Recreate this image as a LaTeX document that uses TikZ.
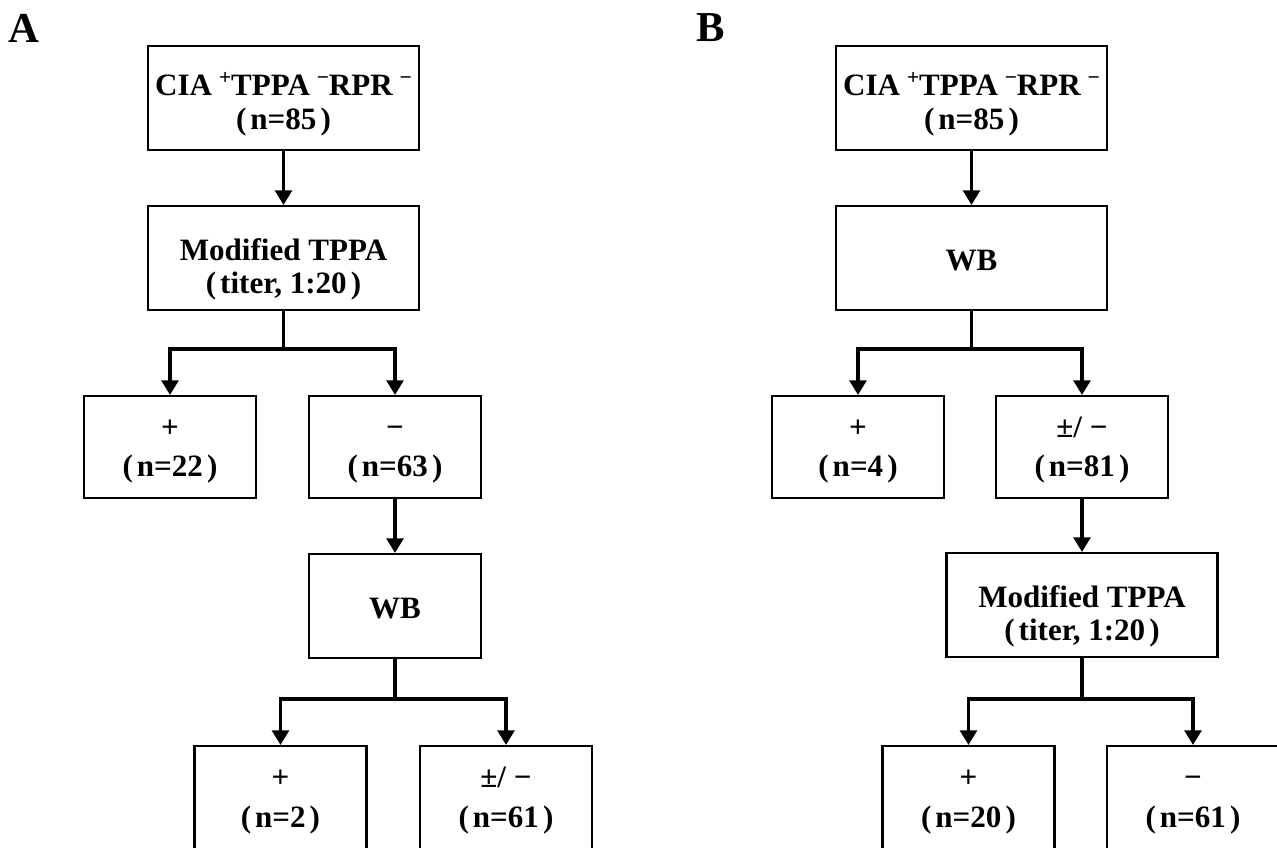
\documentclass[tikz,border=0pt]{standalone}
\usepackage{fontspec}
\setmainfont{Liberation Serif}
\usetikzlibrary{arrows.meta}
\newcommand\supsym[1]{\hspace{0.22em}\raisebox{0.72ex}{\fontsize{16}{16}\selectfont #1}}
\newcommand\lp{(\kern3pt}
\newcommand\rp{\kern3pt)}
\begin{document}
\begin{tikzpicture}[x=0.75pt,y=-0.75pt,
  basebox/.style={draw, line width=1.8pt, inner sep=0pt, anchor=north, align=center},
  wide/.style={basebox, minimum width=203.25pt},
  narrow/.style={basebox, minimum width=129pt},
  dims/.style n args={3}{text height=#1, text depth=#2, font=\fontsize{23.3}{#3}\selectfont\bfseries},
  toprow/.style={dims={62.25pt}{15.75pt}{25.5pt}},
  twoline/.style={dims={65.25pt}{12.75pt}{24.75pt}},
  oneline/.style={dims={48pt}{30pt}{25pt}},
  signrow/.style={dims={60pt}{16.5pt}{29pt}},
  cutrow/.style={dims={60.75pt}{32pt}{30pt}},
  wire/.style={line width=2.9pt},
  arr/.style={wire, -{Triangle[length=11pt,width=12.5pt]}},
  panel/.style={font=\fontsize{32}{32}\selectfont\bfseries}]
\useasboundingbox (0,0) rectangle (1277,848);
\clip (0,0) rectangle (1277,848);
\fill[white] (0,0) rectangle (1277,848);
% ---------- Panel A ----------
\node[panel] (labA) at (24,28) {A};
\node[wide, toprow] (a1) at (283.5,45) {CIA\supsym{+}TPPA\supsym{−}RPR\supsym{−}\\\lp n=85\rp};
\node[wide, twoline] (a2) at (283.5,205) {Modified TPPA\\\lp titer, 1:20\rp};
\node[narrow, signrow] (a3) at (170,395) {+\\\lp n=22\rp};
\node[narrow, signrow] (a4) at (395,395) {−\\\lp n=63\rp};
\node[narrow, oneline] (a5) at (395,553) {WB};
\node[narrow, cutrow] (a6) at (280.5,745) {+\\\lp n=2\rp};
\node[narrow, cutrow] (a7) at (506,745) {±/ −\\\lp n=61\rp};
\coordinate (ja1) at (283.5,349);
\coordinate (ja2) at (395,699);
\draw[arr] (a1) -- (a2);
\draw[wire] (a2) -- (ja1);
\draw[arr] (ja1) -| (a3.north);
\draw[arr] (ja1) -| (a4.north);
\draw[arr] (a4) -- (a5);
\draw[wire] (a5) -- (ja2);
\draw[arr] (ja2) -| (a6.north);
\draw[arr] (ja2) -| (a7.north);
% ---------- Panel B ----------
\node[panel] (labB) at (711,28) {B};
\node[wide, toprow] (b1) at (971.5,45) {CIA\supsym{+}TPPA\supsym{−}RPR\supsym{−}\\\lp n=85\rp};
\node[wide, oneline] (b2) at (971.5,205) {WB};
\node[narrow, signrow] (b3) at (858,395) {+\\\lp n=4\rp};
\node[narrow, signrow] (b4) at (1082,395) {±/ −\\\lp n=81\rp};
\node[wide, twoline] (b5) at (1082,552) {Modified TPPA\\\lp titer, 1:20\rp};
\node[narrow, cutrow] (b6) at (968.5,745) {+\\\lp n=20\rp};
\node[narrow, cutrow] (b7) at (1193,745) {−\\\lp n=61\rp};
\coordinate (jb1) at (971.5,349);
\coordinate (jb2) at (1082,699);
\draw[arr] (b1) -- (b2);
\draw[wire] (b2) -- (jb1);
\draw[arr] (jb1) -| (b3.north);
\draw[arr] (jb1) -| (b4.north);
\draw[arr] (b4) -- (b5);
\draw[wire] (b5) -- (jb2);
\draw[arr] (jb2) -| (b6.north);
\draw[arr] (jb2) -| (b7.north);
\end{tikzpicture}
\end{document}
